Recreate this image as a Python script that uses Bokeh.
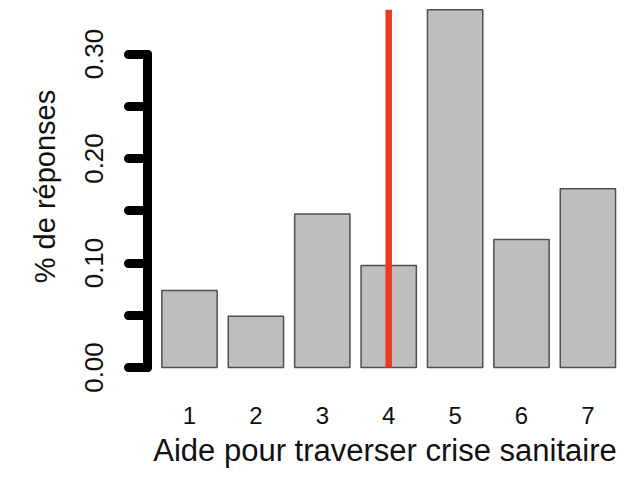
from bokeh.plotting import figure
from bokeh.models import FixedTicker, LinearAxis, Range1d
from bokeh.embed import file_html
from bokeh.resources import INLINE

# ---- data ----
categories = [1, 2, 3, 4, 5, 6, 7]
tick_labels = ["1", "2", "3", "4", "5", "6", "7"]
shares = [0.0737, 0.0491, 0.147, 0.0976, 0.3423, 0.1225, 0.171]
y_ticks = [0.0, 0.10, 0.20, 0.30]
y_tick_labels = ["0.00", "0.10", "0.20", "0.30"]
y_minor_ticks = [0.05, 0.15, 0.25]
reference_category = 4
x_title = "Aide pour traverser crise sanitaire"
y_title = "% de réponses"

FONT = "Liberation Sans"
TXT = "#111111"

p = figure(width=622, height=475, output_backend="svg", toolbar_location=None,
           x_range=Range1d(0.3675, 7.521), y_range=Range1d(-0.00478, 0.3512),
           min_border_left=147, min_border_right=0, min_border_top=0,
           min_border_bottom=103,
           x_axis_location=None, y_axis_location=None)
p.outline_line_color = None
p.background_fill_color = "white"
p.border_fill_color = "white"
p.grid.grid_line_color = None

p.vbar(x=categories, top=shares, bottom=0, width=0.833,
       fill_color="#BEBEBE", line_color="#505050", line_width=1.5)

p.segment(x0=[reference_category], y0=[0], x1=[reference_category],
          y1=[max(shares)], line_color="#EC3B24", line_width=6.5)

# y axis
yaxis = LinearAxis(ticker=FixedTicker(ticks=y_ticks, minor_ticks=y_minor_ticks),
                   bounds=(min(y_ticks), max(y_ticks)))
yaxis.major_label_overrides = {t: l for t, l in zip(y_ticks, y_tick_labels)}
yaxis.major_label_orientation = "vertical"
yaxis.axis_line_width = 9
yaxis.axis_line_cap = "round"
yaxis.axis_line_color = "black"
yaxis.major_tick_line_width = 9
yaxis.major_tick_line_cap = "round"
yaxis.major_tick_out = 19
yaxis.major_tick_in = 0
yaxis.minor_tick_line_width = 9
yaxis.minor_tick_line_cap = "round"
yaxis.minor_tick_line_color = "black"
yaxis.minor_tick_out = 19
yaxis.minor_tick_in = 0
yaxis.major_label_text_font = FONT
yaxis.major_label_text_font_size = "26px"
yaxis.major_label_text_color = TXT
yaxis.major_label_standoff = 25
yaxis.axis_label = y_title
yaxis.axis_label_text_font = FONT
yaxis.axis_label_text_font_size = "29px"
yaxis.axis_label_text_font_style = "normal"
yaxis.axis_label_text_color = TXT
yaxis.axis_label_standoff = 22
p.add_layout(yaxis, "left")

# x axis
xaxis = LinearAxis(ticker=FixedTicker(ticks=categories))
xaxis.major_label_overrides = dict(zip(categories, tick_labels))
xaxis.axis_line_color = None
xaxis.major_tick_line_color = None
xaxis.minor_tick_line_color = None
xaxis.major_tick_out = 0
xaxis.major_tick_in = 0
xaxis.major_label_standoff = 34
xaxis.major_label_text_font = FONT
xaxis.major_label_text_font_size = "24px"
xaxis.major_label_text_color = TXT
xaxis.axis_label = x_title
xaxis.axis_label_text_font = FONT
xaxis.axis_label_text_font_size = "31px"
xaxis.axis_label_text_font_style = "normal"
xaxis.axis_label_text_color = TXT
xaxis.axis_label_standoff = 6
p.add_layout(xaxis, "below")

open("out.html", "w").write(file_html(p, INLINE))
